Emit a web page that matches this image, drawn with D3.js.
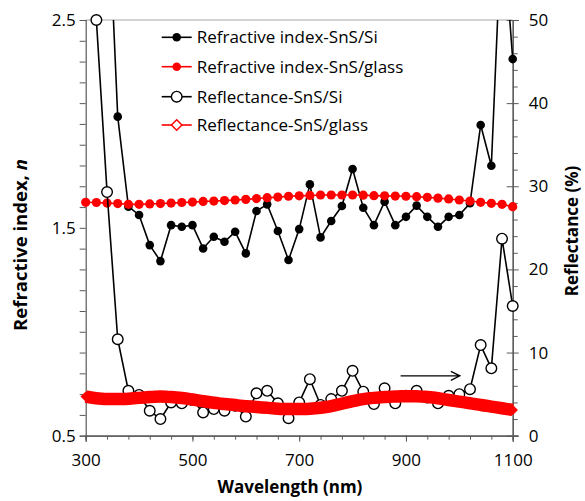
<!DOCTYPE html>
<meta charset="utf-8">
<script src="https://d3js.org/d3.v7.min.js"></script>
<style>
  body { margin: 0; background: #fff; }
  text { font-family: "Open Sans", "Noto Sans", sans-serif; }
</style>
<svg width="585" height="501"></svg>
<script>

    // wavelengths (nm) for each series
    const wlNSi = d3.range(340, 1101, 20);
    const wlNGlass = d3.range(300, 1101, 20);
    const wlRSi = d3.range(320, 1101, 20);
    const wlRGlass = d3.range(300, 1101, 10);

    // refractive index, SnS on Si
    const nSi = [3.2, 2.035, 1.602, 1.562, 1.417, 1.340, 1.513, 1.505, 1.513, 1.401,
        1.457, 1.433, 1.481, 1.377, 1.581, 1.613, 1.485, 1.345, 1.494, 1.709,
        1.454, 1.533, 1.605, 1.783, 1.597, 1.513, 1.626, 1.513, 1.553, 1.607,
        1.553, 1.505, 1.553, 1.562, 1.618, 1.995, 1.799, 3.0, 2.312];

    // refractive index, SnS on glass
    const nGlass = [1.623, 1.622, 1.619, 1.617, 1.613, 1.613, 1.615, 1.617, 1.619, 1.622,
        1.624, 1.627, 1.629, 1.631, 1.634, 1.637, 1.641, 1.645, 1.648, 1.652,
        1.654, 1.656, 1.658, 1.658, 1.658, 1.658, 1.657, 1.655, 1.654, 1.653,
        1.652, 1.650, 1.647, 1.643, 1.639, 1.634, 1.629, 1.623, 1.618, 1.613, 1.602];

    // reflectance (%), SnS on Si
    const rSi = [50, 29.3, 11.6, 5.4, 4.9, 3.0, 2.0, 4.0, 3.9, 4.3,
        2.8, 3.2, 3.0, 3.6, 2.3, 5.1, 5.4, 3.9, 2.1, 4.0,
        6.8, 3.7, 4.4, 5.4, 7.8, 5.3, 3.8, 5.7, 3.9, 4.8,
        5.4, 4.6, 3.9, 4.8, 5.0, 5.6, 10.9, 8.1, 23.7, 15.6];

    // reflectance (%), SnS on glass
    const rGlass = [4.7, 4.6, 4.5, 4.45, 4.4, 4.4, 4.4, 4.4, 4.45, 4.5,
        4.55, 4.6, 4.65, 4.7, 4.7, 4.7, 4.65, 4.6, 4.55, 4.45,
        4.35, 4.25, 4.15, 4.05, 3.95, 3.9, 3.8, 3.75, 3.7, 3.6,
        3.55, 3.5, 3.45, 3.4, 3.35, 3.3, 3.25, 3.2, 3.2, 3.2,
        3.2, 3.2, 3.25, 3.3, 3.35, 3.45, 3.55, 3.7, 3.85, 4.0,
        4.15, 4.3, 4.4, 4.5, 4.55, 4.6, 4.65, 4.7, 4.7, 4.75,
        4.75, 4.75, 4.75, 4.7, 4.65, 4.6, 4.5, 4.4, 4.3, 4.2,
        4.1, 4.0, 3.9, 3.8, 3.7, 3.6, 3.5, 3.4, 3.3, 3.2, 3.1];

    const xLabels = [300, 500, 700, 900, 1100];
    const nLabels = [0.5, 1.5, 2.5];
    const rLabels = [0, 10, 20, 30, 40, 50];
    const legendNames = ["Refractive index-SnS/Si", "Refractive index-SnS/glass",
        "Reflectance-SnS/Si", "Reflectance-SnS/glass"];

    const svg = d3.select("svg");
    const pLeft = 85.7, pRight = 512.7, pTop = 20, pBottom = 435.7;

    const x = d3.scaleLinear().domain([300, 1100]).range([pLeft, pRight]);
    const yN = d3.scaleLinear().domain([0.5, 2.5]).range([pBottom, pTop]);
    const yR = d3.scaleLinear().domain([0, 50]).range([pBottom, pTop]);

    const axisColor = "#595959";

    svg.append("defs").append("clipPath").attr("id", "plot")
        .append("rect").attr("x", pLeft - 10).attr("y", pTop)
        .attr("width", pRight - pLeft + 20).attr("height", pBottom - pTop + 10);

    // top border
    svg.append("line").attr("x1", pLeft).attr("x2", pRight).attr("y1", pTop).attr("y2", pTop)
        .attr("stroke", "#a6a6a6").attr("stroke-width", 1);

    // axes
    const fmtN = d => nLabels.some(v => Math.abs(v - d) < 1e-6) ? d3.format(".1f")(d) : "";

    svg.append("g").attr("transform", "translate(0," + pBottom + ")")
        .call(d3.axisBottom(x).tickValues(d3.range(300, 1101, 40)).tickSize(4).tickFormat(""));
    svg.append("g").attr("transform", "translate(0," + pBottom + ")")
        .call(d3.axisBottom(x).tickValues(xLabels).tickSize(6).tickPadding(12).tickFormat(d3.format("d")));

    svg.append("g").attr("transform", "translate(" + pLeft + ",0)")
        .call(d3.axisLeft(yN).tickValues(d3.range(5, 26).map(v => v / 10)).tickSize(6).tickPadding(4).tickFormat(fmtN));

    svg.append("g").attr("transform", "translate(" + pRight + ",0)")
        .call(d3.axisRight(yR).tickValues(d3.range(0, 51, 2).filter(v => v % 10)).tickSize(5).tickFormat(""));
    const gr = svg.append("g").attr("transform", "translate(" + pRight + ",0)")
        .call(d3.axisRight(yR).tickValues(rLabels).tickSize(6).tickPadding(10).tickFormat(d3.format("d")));
    gr.selectAll(".tick line").attr("x1", -6);

    svg.selectAll(".domain").attr("stroke", axisColor).attr("stroke-width", 1.2);
    svg.selectAll(".tick line").attr("stroke", axisColor);
    svg.selectAll(".tick text").attr("font-size", "17px").attr("fill", "#000")
        .style("font-family", "'Open Sans', sans-serif");

    // axis titles
    svg.append("text").attr("x", 290).attr("y", 493).attr("text-anchor", "middle")
        .attr("font-size", "17px").attr("font-weight", "bold").text("Wavelength (nm)");

    const tl = svg.append("text").attr("transform", "translate(27,245) rotate(-90)")
        .attr("text-anchor", "middle").attr("font-size", "18.5px").attr("font-weight", "bold");
    tl.append("tspan").text("Refractive index, ");
    tl.append("tspan").attr("font-style", "italic").text("n");

    svg.append("text").attr("transform", "translate(578,231) rotate(-90)")
        .attr("text-anchor", "middle").attr("font-size", "17px").attr("font-weight", "bold")
        .text("Reflectance (%)");

    const plot = svg.append("g");
    const clipped = plot.append("g").attr("clip-path", "url(#plot)");

    // series 1: n SnS/Si
    const ptsNSi = wlNSi.map((w, i) => [w, nSi[i]]);
    clipped.append("path").datum(ptsNSi)
        .attr("d", d3.line().x(d => x(d[0])).y(d => yN(d[1])))
        .attr("fill", "none").attr("stroke", "#000").attr("stroke-width", 1.6);
    plot.append("g").selectAll("circle").data(ptsNSi.filter(d => d[1] <= 2.5)).join("circle")
        .attr("cx", d => x(d[0])).attr("cy", d => yN(d[1])).attr("r", 4.3).attr("fill", "#000");

    // series 2: n SnS/glass
    const ptsNGlass = wlNGlass.map((w, i) => [w, nGlass[i]]);
    clipped.append("path").datum(ptsNGlass)
        .attr("d", d3.line().x(d => x(d[0])).y(d => yN(d[1])))
        .attr("fill", "none").attr("stroke", "#f00").attr("stroke-width", 1.6);
    plot.append("g").selectAll("circle").data(ptsNGlass).join("circle")
        .attr("cx", d => x(d[0])).attr("cy", d => yN(d[1])).attr("r", 4.6).attr("fill", "#f00");

    // series 3: R SnS/Si
    const ptsRSi = wlRSi.map((w, i) => [w, rSi[i]]);
    const g3 = plot.append("g");
    g3.append("path").datum(ptsRSi)
        .attr("clip-path", "url(#plot)")
        .attr("d", d3.line().x(d => x(d[0])).y(d => yR(d[1])))
        .attr("fill", "none").attr("stroke", "#000").attr("stroke-width", 1.6);
    g3.selectAll("circle").data(ptsRSi).join("circle")
        .attr("cx", d => x(d[0])).attr("cy", d => yR(d[1])).attr("r", 5.3)
        .attr("fill", "#fff").attr("stroke", "#000").attr("stroke-width", 1.4);

    // series 4: R SnS/glass (dense diamonds form a thick band)
    const ptsRGlass = wlRGlass.map((w, i) => [w, rGlass[i]]);
    const g4 = plot.append("g");
    g4.append("path").datum(ptsRGlass)
        .attr("d", d3.line().curve(d3.curveBasis).x(d => x(d[0])).y(d => yR(d[1])))
        .attr("fill", "none").attr("stroke", "#f00").attr("stroke-width", 12.5)
        .attr("stroke-linejoin", "round");
    g4.selectAll("path.rg").data(ptsRGlass).join("path").attr("class", "rg")
        .attr("transform", d => "translate(" + x(d[0]) + "," + yR(d[1]) + ")")
        .attr("d", d3.symbol(d3.symbolDiamond2, 70))
        .attr("fill", "#f00");

    // arrow annotation
    const ay = yR(7.2), ax1 = x(890), ax2 = x(1001);
    svg.append("path")
        .attr("d", "M" + ax1 + "," + ay + "H" + ax2 + "M" + (ax2 - 9) + "," + (ay - 4.5) + "L" + ax2 + "," + ay + "L" + (ax2 - 9) + "," + (ay + 4.5))
        .attr("fill", "none").attr("stroke", "#000").attr("stroke-width", 1.3);

    // legend
    const legY = [37.3, 66.7, 96.7, 125];
    const lg = svg.append("g");
    legendNames.forEach((name, i) => {
        const color = (i % 2) ? "#f00" : "#000";
        const y = legY[i];
        lg.append("line").attr("x1", 161.7).attr("x2", 191.7).attr("y1", y).attr("y2", y)
            .attr("stroke", color).attr("stroke-width", 1.6);
        if (i < 2) {
            lg.append("circle").attr("cx", 176.7).attr("cy", y).attr("r", 4.3).attr("fill", color);
        } else if (i === 2) {
            lg.append("circle").attr("cx", 176.7).attr("cy", y).attr("r", 5.3)
                .attr("fill", "#fff").attr("stroke", "#000").attr("stroke-width", 1.4);
        } else {
            lg.append("path").attr("transform", "translate(176.7," + y + ")")
                .attr("d", d3.symbol(d3.symbolDiamond2, 70))
                .attr("fill", "#fff").attr("stroke", "#f00").attr("stroke-width", 1.5);
        }
        lg.append("text").attr("x", 196.7).attr("y", y).attr("dy", "0.35em")
            .attr("font-size", "17px").text(name);
    });

</script>
